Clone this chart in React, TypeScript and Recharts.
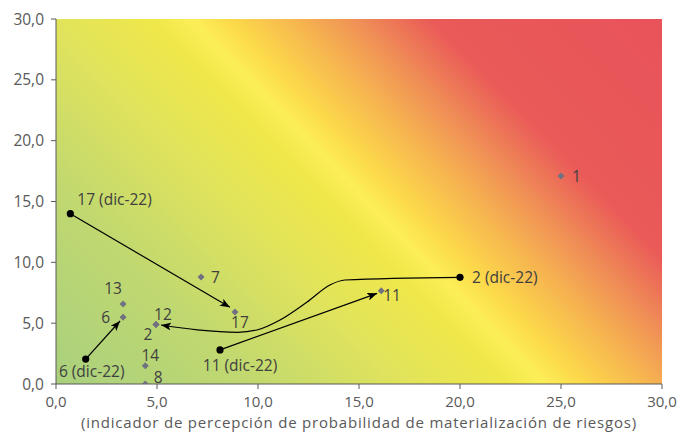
import { ScatterChart, Scatter, XAxis, YAxis, ReferenceArea, Curve } from 'recharts'

// axis ticks
const axisTicks = [0, 5, 10, 15, 20, 25, 30]

// current risk positions (grey diamonds)
const riskLabels = ['1', '7', '17', '11', '13', '6', '12', '2', '14', '8']
const riskX = [25.0, 7.18, 8.86, 16.1, 3.32, 3.32, 4.95, 4.95, 4.42, 4.42]
const riskY = [17.1, 8.8, 5.92, 7.67, 6.58, 5.48, 4.9, 4.9, 1.5, 0]

// dic-22 positions (black dots)
const dicLabels = ['17 (dic-22)', '2 (dic-22)', '11 (dic-22)', '6 (dic-22)']
const dicX = [0.71, 20.0, 8.12, 1.47]
const dicY = [14.0, 8.77, 2.8, 2.05]

// arrows from dic-22 to current position
const arrow17 = [{ x: 0.71, y: 14.0 }, { x: 8.61, y: 6.3 }]
const arrow6 = [{ x: 1.47, y: 2.05 }, { x: 3.17, y: 5.18 }]
const arrow11 = [{ x: 8.12, y: 2.8 }, { x: 15.9, y: 7.45 }]
const arrow2 = [
    { x: 20.0, y: 8.77 },
    { x: 14.3, y: 8.55 },
    { x: 13.56, y: 8.14 },
    { x: 12.43, y: 6.74 },
    { x: 11.09, y: 5.26 },
    { x: 9.95, y: 4.44 },
    { x: 9.0, y: 4.25 },
    { x: 7.0, y: 4.45 },
    { x: 5.2, y: 4.85 },
]

const riskData = riskLabels.map((name, i) => ({ name, x: riskX[i], y: riskY[i] }))
const dicData = dicLabels.map((name, i) => ({ name, x: dicX[i], y: dicY[i] }))

// label placement relative to the mark: dx, dy, anchor
const labelOffset: Record<string, [number, number, 'start' | 'middle' | 'end']> = {
    '1': [11, 0, 'start'],
    '7': [10, 0, 'start'],
    '17': [5, 10, 'middle'],
    '11': [2, 4, 'start'],
    '13': [-10, -16, 'middle'],
    '6': [-13, 0, 'end'],
    '12': [7, -10, 'middle'],
    '2': [-8, 10, 'middle'],
    '14': [5, -11, 'middle'],
    '8': [13, -7, 'middle'],
    '17 (dic-22)': [7, -15, 'start'],
    '2 (dic-22)': [12, 0, 'start'],
    '11 (dic-22)': [20, 15, 'middle'],
    '6 (dic-22)': [6, 12, 'middle'],
}

const FONT = '"Open Sans", sans-serif'
const TEXT = '#404040'
const AXIS = '#595959'

const fmt = (v: number) => v.toFixed(1).replace('.', ',')

const PointLabel = ({ cx, cy, name }: any) => {
    const [dx, dy, anchor] = labelOffset[name] ?? [8, 0, 'start']
    return (
        <text x={cx + dx} y={cy + dy} textAnchor={anchor} dominantBaseline="central" fontSize={15.5} fill={TEXT} fontFamily={FONT}>
            {name}
        </text>
    )
}

const Diamond = (p: any) => {
    const { cx, cy } = p
    const s = 3.5
    return (
        <g>
            <polygon points={`${cx},${cy - s} ${cx + s},${cy} ${cx},${cy + s} ${cx - s},${cy}`} fill="#6f7180" />
            <PointLabel cx={cx} cy={cy} name={p.payload?.name} />
        </g>
    )
}

const Dot = (p: any) => {
    const { cx, cy } = p
    return (
        <g>
            <circle cx={cx} cy={cy} r={3.6} fill="#000" />
            <PointLabel cx={cx} cy={cy} name={p.payload?.name} />
        </g>
    )
}

const arrowLine = (curveType: 'linear' | 'monotoneX') => (p: any) => (
    <Curve {...p} type={curveType} stroke="#000" strokeWidth={1.2} fill="none" markerEnd="url(#arrowHead)" />
)

const noShape = () => <g />

// plot rect in page pixels, used for the background gradient
const PLOT = { left: 56, top: 19, width: 606, height: 365 }

export default function App() {
    const gx1 = PLOT.left
    const gy1 = PLOT.top + PLOT.height
    return (
        <div style={{ position: 'absolute', left: 0, top: 0, width: 682, height: 433, fontFamily: FONT }}>
            <svg width={0} height={0} style={{ position: 'absolute' }}>
                <defs>
                    <linearGradient id="riskBg" gradientUnits="userSpaceOnUse" x1={gx1} y1={gy1} x2={gx1 + 494} y2={gy1 - 480}>
                        <stop offset="0" stopColor="#a9d07e" />
                        <stop offset="0.2" stopColor="#c0d870" />
                        <stop offset="0.36" stopColor="#e0e35c" />
                        <stop offset="0.47" stopColor="#f0e84a" />
                        <stop offset="0.51" stopColor="#fcee58" />
                        <stop offset="0.55" stopColor="#fcd94a" />
                        <stop offset="0.62" stopColor="#f6b450" />
                        <stop offset="0.68" stopColor="#f09056" />
                        <stop offset="0.76" stopColor="#ea5a58" />
                        <stop offset="1" stopColor="#e8535a" />
                    </linearGradient>
                    <marker id="arrowHead" markerUnits="userSpaceOnUse" markerWidth={11} markerHeight={8} refX={10} refY={4} orient="auto">
                        <path d="M0,0 L10,4 L0,8 L2.5,4 Z" fill="#000" />
                    </marker>
                </defs>
            </svg>
            <ScatterChart width={682} height={433} margin={{ top: 19, right: 20, bottom: 0, left: 0 }}>
                <XAxis
                    type="number"
                    dataKey="x"
                    domain={[0, 30]}
                    ticks={axisTicks}
                    tickFormatter={fmt}
                    allowDataOverflow
                    height={49}
                    tickSize={5}
                    tickMargin={7}
                    stroke={AXIS}
                    tick={{ fill: AXIS, fontSize: 15, fontFamily: FONT }}
                    label={{
                        value: '(indicador de percepción de probabilidad de materialización de riesgos)',
                        position: 'insideBottom',
                        offset: 5,
                        fill: AXIS,
                        fontSize: 15,
                        letterSpacing: 0.8,
                        fontFamily: FONT,
                    }}
                />
                <YAxis
                    type="number"
                    dataKey="y"
                    domain={[0, 30]}
                    ticks={axisTicks}
                    tickFormatter={fmt}
                    allowDataOverflow
                    width={56}
                    tickSize={5}
                    tickMargin={7}
                    stroke={AXIS}
                    tick={{ fill: AXIS, fontSize: 15.5, fontFamily: FONT }}
                />
                <ReferenceArea x1={0} x2={30} y1={0} y2={30} fill="url(#riskBg)" fillOpacity={1} stroke="none" zIndex={-200} />

                <Scatter data={arrow17} shape={noShape} line={arrowLine('linear')} isAnimationActive={false} />
                <Scatter data={arrow6} shape={noShape} line={arrowLine('linear')} isAnimationActive={false} />
                <Scatter data={arrow11} shape={noShape} line={arrowLine('linear')} isAnimationActive={false} />
                <Scatter data={arrow2} shape={noShape} line={arrowLine('monotoneX')} isAnimationActive={false} />

                <Scatter name="Riesgos" data={riskData} shape={Diamond} isAnimationActive={false} />
                <Scatter name="dic-22" data={dicData} shape={Dot} isAnimationActive={false} />
            </ScatterChart>
        </div>
    )
}
